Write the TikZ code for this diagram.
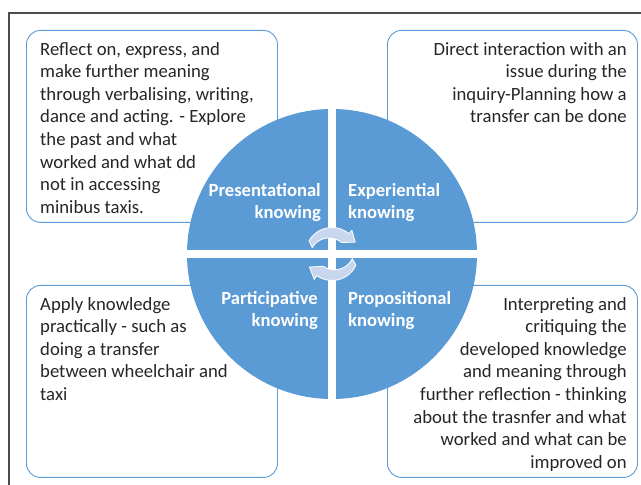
\documentclass[tikz,border=0pt]{standalone}
\usepackage{fontspec}
\setmainfont{Carlito}
\usetikzlibrary{calc}
\definecolor{qblue}{RGB}{91,155,213}
\definecolor{cyclefill}{RGB}{200,214,238}
\definecolor{txt}{RGB}{38,38,38}
\tikzset{
  notebox/.style={draw=qblue, line width=0.9pt, rounded corners=14pt, fill=white,
    minimum width=#1, minimum height=192pt, inner sep=0pt},
  notebox/.default=251pt,
  notetext/.style={inner sep=0pt, font=\fontsize{18.7}{22.6}\selectfont, text=txt},
  quadlabel/.style={inner sep=0pt, font=\fontsize{18.6}{22}\selectfont\bfseries, text=white},
  cyclearrow/.style={fill=cyclefill, draw=white, line width=0.8pt, line join=round},
}
\begin{document}
\begin{tikzpicture}[x=1pt,y=1pt]
\useasboundingbox (0,0) rectangle (641,485);

% page frame (top and left rule)
\draw[line width=1.2pt, draw=black!70] (9,0) -- (9,472) -- (641,472);

% the four note boxes
\node[notebox, anchor=north west] (tlbox) at (26,455) {};
\node[notebox=250pt, anchor=north west] (trbox) at (387,455) {};
\node[notebox, anchor=north west] (blbox) at (26,200) {};
\node[notebox=250pt, anchor=north west] (brbox) at (387,200) {};

\node[notetext, anchor=north west, align=left] (tltext) at ([shift={(14,-12)}]tlbox.north west)
  {Reflect on, express, and\\make further meaning\\through verbalising, writing,\\dance and acting. - Explore\\the past and what\\worked and what dd\\not in accessing\\minibus taxis.};
\node[notetext, anchor=north east, align=right] (trtext) at ([shift={(-11,-12)}]trbox.north east)
  {Direct interaction with an\\issue during the\\inquiry-Planning how a\\transfer can be done};
\node[notetext, anchor=north west, align=left] (bltext) at ([shift={(14,-12)}]blbox.north west)
  {Apply knowledge\\practically - such as\\doing a transfer\\between wheelchair and\\taxi};
\node[notetext, anchor=north east, align=right] (brtext) at ([shift={(-11,-12)}]brbox.north east)
  {Interpreting and\\critiquing the\\developed knowledge\\and meaning through\\further reflection - thinking\\about the trasnfer and what\\worked and what can be\\improved on};

% central circle split into four quadrants
\coordinate (c) at (332,231);
\fill[qblue] (c) circle[radius=145pt];
\begin{scope}
  \clip (c) circle[radius=146pt];
  \fill[white] ($(c)+(-4,-150)$) rectangle ($(c)+(4,150)$);
  \fill[white] ($(c)+(-150,-4)$) rectangle ($(c)+(150,4)$);
\end{scope}

% quadrant labels
\node[quadlabel, anchor=north east, align=right] (presentational) at (321,302) {Presentational\\knowing};
\node[quadlabel, anchor=north west, align=left] (experiential) at (348,302) {Experiential\\knowing};
\node[quadlabel, anchor=north east, align=right] (participative) at (318,194) {Participative\\knowing};
\node[quadlabel, anchor=north west, align=left] (propositional) at (348,194) {Propositional\\knowing};

% circular arrows around the centre
\begin{scope}[shift={(c)}]
  \draw[cyclearrow] (150:26.5pt) arc[start angle=150, end angle=50, radius=26.5pt]
    -- (50:31pt) -- (27:26pt) -- (50:15pt)
    arc[start angle=50, end angle=150, radius=19.5pt] -- cycle;
  \draw[cyclearrow] (-25:26.5pt) arc[start angle=-25, end angle=-125, radius=26.5pt]
    -- (-125:31pt) -- (-150:26pt) -- (-125:15pt)
    arc[start angle=-125, end angle=-25, radius=19.5pt] -- cycle;
\end{scope}
\end{tikzpicture}
\end{document}
